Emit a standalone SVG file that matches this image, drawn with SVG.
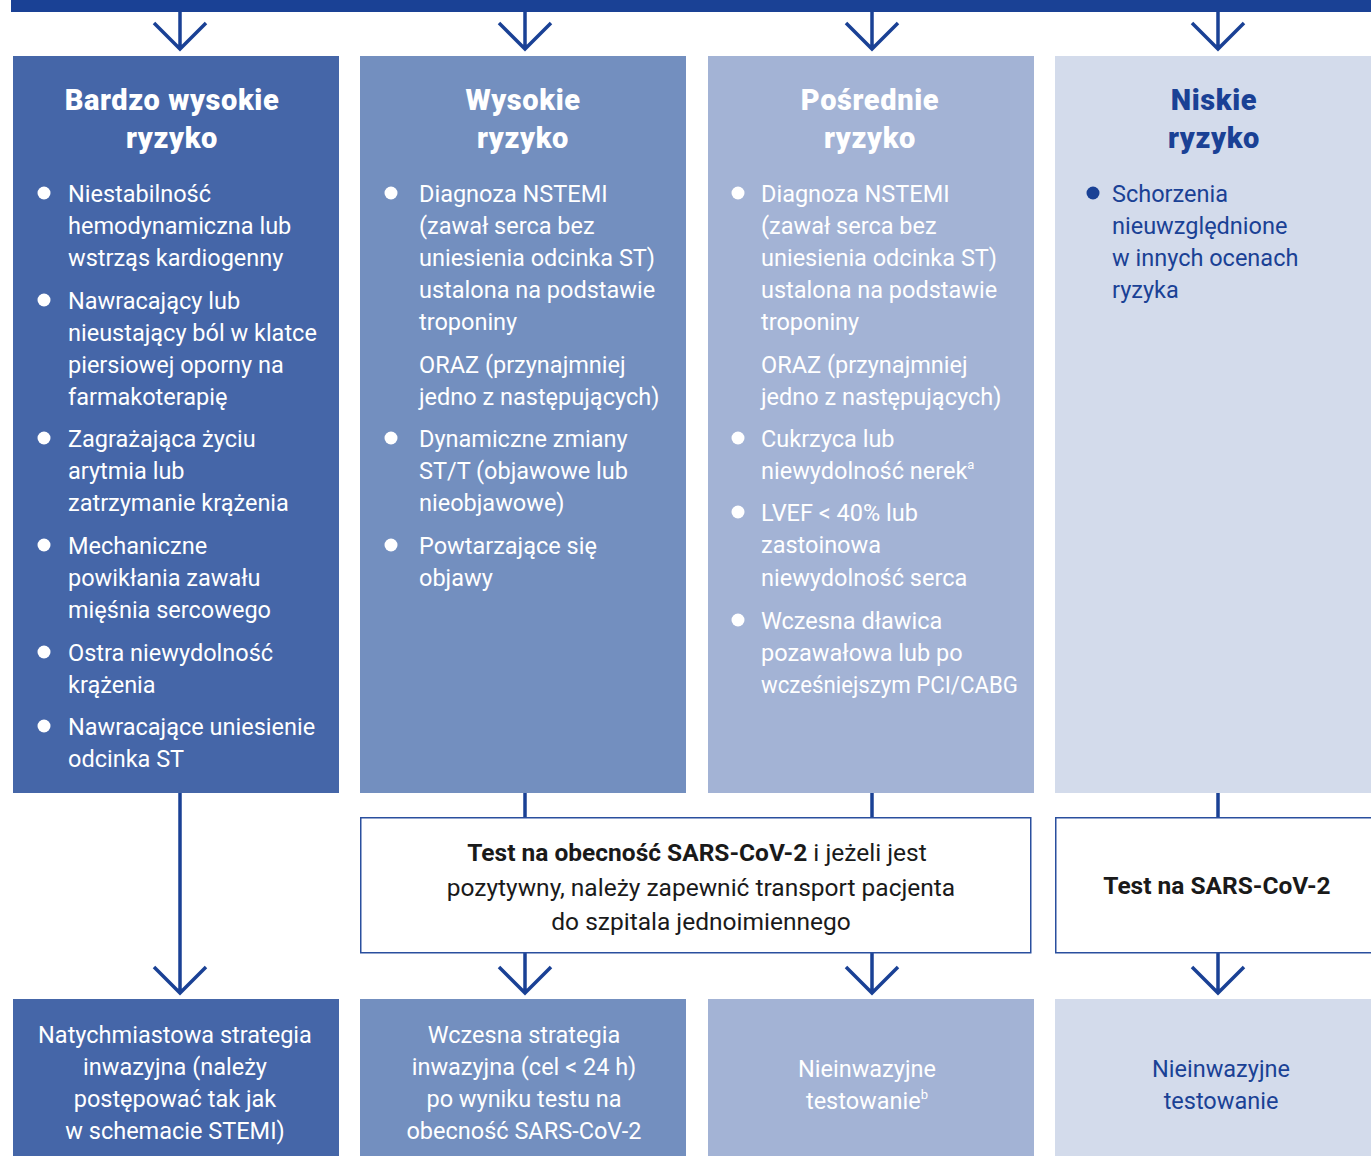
<svg xmlns="http://www.w3.org/2000/svg" width="1371" height="1156" viewBox="0 0 1371 1156">
<style>
.c1{fill:#4566a8}.c2{fill:#738fbf}.c3{fill:#a3b3d5}.c4{fill:#d3dbeb}
.t{font-family:Roboto,"Noto Sans",sans-serif;font-size:23.5px;fill:#fff}
.tb{font-family:Roboto,"Noto Sans",sans-serif;font-size:29px;font-weight:900;letter-spacing:0.6px;fill:#fff;text-anchor:middle}
.dk{fill:#1a4195}
.mid{text-anchor:middle}
.bl{fill:#fff}
.bx{fill:#fff;stroke:#2a4f9e;stroke-width:1.5}
.tx{font-family:Roboto,"Noto Sans",sans-serif;font-size:24.5px;fill:#1a1a1a;text-anchor:middle}
.ar{fill:none;stroke:#1a4195;stroke-width:3.5}
</style>
<rect x="11" y="0" width="1360" height="12" fill="#1a4195"/>
<g id="connectors">
<path class="ar" d="M180,12V49M154,23L180,49L206,23"/>
<path class="ar" d="M525,12V49M499,23L525,49L551,23"/>
<path class="ar" d="M872,12V49M846,23L872,49L898,23"/>
<path class="ar" d="M1218,12V49M1192,23L1218,49L1244,23"/>
<path class="ar" d="M180,793V993M154,967L180,993L206,967"/>
<path class="ar" d="M525,793V817"/>
<path class="ar" d="M872,793V817"/>
<path class="ar" d="M1218,793V817"/>
<path class="ar" d="M525,953V993M499,967L525,993L551,967"/>
<path class="ar" d="M872,953V993M846,967L872,993L898,967"/>
<path class="ar" d="M1218,953V993M1192,967L1218,993L1244,967"/>
</g>
<g id="very-high">
<rect class="c1" x="13" y="56" width="326" height="737"/>
<text class="tb" x="172" y="110">Bardzo wysokie</text>
<text class="tb" x="172" y="148">ryzyko</text>
<g class="bl"><circle cx="44" cy="193" r="6.5"/><circle cx="44" cy="300" r="6.5"/><circle cx="44" cy="438" r="6.5"/><circle cx="44" cy="545" r="6.5"/><circle cx="44" cy="652" r="6.5"/><circle cx="44" cy="726" r="6.5"/></g>
<text class="t" x="68" y="202">Niestabilność</text>
<text class="t" x="68" y="234">hemodynamiczna lub</text>
<text class="t" x="68" y="266">wstrząs kardiogenny</text>
<text class="t" x="68" y="309">Nawracający lub</text>
<text class="t" x="68" y="341">nieustający ból w klatce</text>
<text class="t" x="68" y="373">piersiowej oporny na</text>
<text class="t" x="68" y="405">farmakoterapię</text>
<text class="t" x="68" y="447">Zagrażająca życiu</text>
<text class="t" x="68" y="479">arytmia lub</text>
<text class="t" x="68" y="511">zatrzymanie krążenia</text>
<text class="t" x="68" y="554">Mechaniczne</text>
<text class="t" x="68" y="586">powikłania zawału</text>
<text class="t" x="68" y="618">mięśnia sercowego</text>
<text class="t" x="68" y="661">Ostra niewydolność</text>
<text class="t" x="68" y="693">krążenia</text>
<text class="t" x="68" y="735">Nawracające uniesienie</text>
<text class="t" x="68" y="767">odcinka ST</text>
</g>
<g id="high">
<rect class="c2" x="360" y="56" width="326" height="737"/>
<text class="tb" x="523" y="110">Wysokie</text>
<text class="tb" x="523" y="148">ryzyko</text>
<g class="bl"><circle cx="391" cy="193" r="6.5"/><circle cx="391" cy="438" r="6.5"/><circle cx="391" cy="545" r="6.5"/></g>
<text class="t" x="419" y="202">Diagnoza NSTEMI</text>
<text class="t" x="419" y="234">(zawał serca bez</text>
<text class="t" x="419" y="266">uniesienia odcinka ST)</text>
<text class="t" x="419" y="298">ustalona na podstawie</text>
<text class="t" x="419" y="330">troponiny</text>
<text class="t" x="419" y="373">ORAZ (przynajmniej</text>
<text class="t" x="419" y="405">jedno z następujących)</text>
<text class="t" x="419" y="447">Dynamiczne zmiany</text>
<text class="t" x="419" y="479">ST/T (objawowe lub</text>
<text class="t" x="419" y="511">nieobjawowe)</text>
<text class="t" x="419" y="554">Powtarzające się</text>
<text class="t" x="419" y="586">objawy</text>
</g>
<g id="intermediate">
<rect class="c3" x="708" y="56" width="326" height="737"/>
<text class="tb" x="870" y="110">Pośrednie</text>
<text class="tb" x="870" y="148">ryzyko</text>
<g class="bl"><circle cx="738" cy="193" r="6.5"/><circle cx="738" cy="438" r="6.5"/><circle cx="738" cy="512" r="6.5"/><circle cx="738" cy="620" r="6.5"/></g>
<text class="t" x="761" y="202">Diagnoza NSTEMI</text>
<text class="t" x="761" y="234">(zawał serca bez</text>
<text class="t" x="761" y="266">uniesienia odcinka ST)</text>
<text class="t" x="761" y="298">ustalona na podstawie</text>
<text class="t" x="761" y="330">troponiny</text>
<text class="t" x="761" y="373">ORAZ (przynajmniej</text>
<text class="t" x="761" y="405">jedno z następujących)</text>
<text class="t" x="761" y="447">Cukrzyca lub</text>
<text class="t" x="761" y="479">niewydolność nerek<tspan font-size="13" dy="-10">a</tspan></text>
<text class="t" x="761" y="521">LVEF &lt; 40% lub</text>
<text class="t" x="761" y="553">zastoinowa</text>
<text class="t" x="761" y="586">niewydolność serca</text>
<text class="t" x="761" y="629">Wczesna dławica</text>
<text class="t" x="761" y="661">pozawałowa lub po</text>
<text class="t" x="761" y="693" textLength="257" lengthAdjust="spacingAndGlyphs">wcześniejszym PCI/CABG</text>
</g>
<g id="low">
<rect class="c4" x="1055" y="56" width="316" height="737"/>
<text class="tb dk" x="1214" y="110">Niskie</text>
<text class="tb dk" x="1214" y="148">ryzyko</text>
<circle class="dk" cx="1093" cy="193" r="6.5"/>
<text class="t dk" x="1112" y="202">Schorzenia</text>
<text class="t dk" x="1112" y="234">nieuwzględnione</text>
<text class="t dk" x="1112" y="266">w innych ocenach</text>
<text class="t dk" x="1112" y="298">ryzyka</text>
</g>
<g id="test-transport">
<rect class="bx" x="360.75" y="817.75" width="670" height="135"/>
<text class="tx" x="697" y="861"><tspan font-weight="bold">Test na obecność SARS-CoV-2</tspan> i jeżeli jest</text>
<text class="tx" x="701" y="896">pozytywny, należy zapewnić transport pacjenta</text>
<text class="tx" x="701" y="930">do szpitala jednoimiennego</text>
</g>
<g id="test-low">
<rect class="bx" x="1055.75" y="817.75" width="320" height="135"/>
<text class="tx" x="1217" y="894" font-weight="bold">Test na SARS-CoV-2</text>
</g>
<g id="out-immediate">
<rect class="c1" x="13" y="999" width="326" height="157"/>
<text class="t mid" x="175" y="1043">Natychmiastowa strategia</text>
<text class="t mid" x="175" y="1075">inwazyjna (należy</text>
<text class="t mid" x="175" y="1107">postępować tak jak</text>
<text class="t mid" x="175" y="1139">w schemacie STEMI)</text>
</g>
<g id="out-early">
<rect class="c2" x="360" y="999" width="326" height="157"/>
<text class="t mid" x="524" y="1043">Wczesna strategia</text>
<text class="t mid" x="524" y="1075">inwazyjna (cel &lt; 24 h)</text>
<text class="t mid" x="524" y="1107">po wyniku testu na</text>
<text class="t mid" x="524" y="1139">obecność SARS-CoV-2</text>
</g>
<g id="out-noninvasive-b">
<rect class="c3" x="708" y="999" width="326" height="157"/>
<text class="t mid" x="867" y="1077">Nieinwazyjne</text>
<text class="t mid" x="867" y="1109">testowanie<tspan font-size="13" dy="-10">b</tspan></text>
</g>
<g id="out-noninvasive">
<rect class="c4" x="1055" y="999" width="316" height="157"/>
<text class="t mid dk" x="1221" y="1077">Nieinwazyjne</text>
<text class="t mid dk" x="1221" y="1109">testowanie</text>
</g>
</svg>
